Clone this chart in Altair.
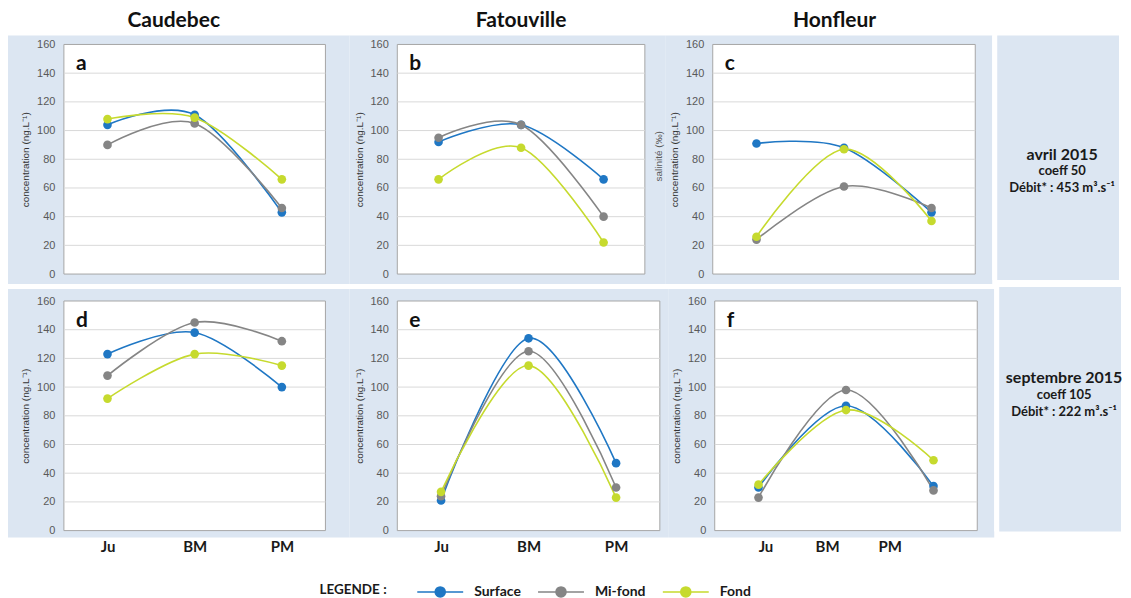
import altair as alt
import pandas as pd

# ---------------- data ----------------
times = ["Ju", "BM", "PM"]
series = ["Surface", "Mi-fond", "Fond"]
series_colors = ["#1F77C4", "#858585", "#C6DA2E"]
y_ticks = [0, 20, 40, 60, 80, 100, 120, 140, 160]
grid_levels = [20, 40, 60, 80, 100, 120, 140]
sites = ["Caudebec", "Fatouville", "Honfleur"]
letters = ["a", "b", "c", "d", "e", "f"]

a_surface = [104, 111, 43]
a_mifond = [90, 105, 46]
a_fond = [108, 109, 66]
b_surface = [92, 104, 66]
b_mifond = [95, 104, 40]
b_fond = [66, 88, 22]
c_surface = [91, 88, 43]
c_mifond = [24, 61, 46]
c_fond = [26, 87, 37]
d_surface = [123, 138, 100]
d_mifond = [108, 145, 132]
d_fond = [92, 123, 115]
e_surface = [21, 134, 47]
e_mifond = [24, 125, 30]
e_fond = [27, 115, 23]
f_surface = [30, 87, 31]
f_mifond = [23, 98, 28]
f_fond = [32, 84, 49]

period_1 = ["avril 2015", "coeff 50", "Débit* : 453 m³.s⁻¹"]
period_2 = ["septembre 2015", "coeff 105", "Débit* : 222 m³.s⁻¹"]

BLUE = "#DCE6F2"
Y_TITLE = "concentration (ng.L⁻¹)"
ONE = pd.DataFrame({"k": [0]})


def long_df(surface, mifond, fond):
    rows = []
    for name, vals in zip(series, [surface, mifond, fond]):
        for i, (t, v) in enumerate(zip(times, vals)):
            rows.append({"series": name, "time": t, "idx": i, "value": v})
    return pd.DataFrame(rows)


legend_symbol = "M-1,0L1,0M0.22,0A0.22,0.22,0,1,1,-0.22,0A0.22,0.22,0,1,1,0.22,0Z"


def make_legend():
    return alt.Legend(
        title="LEGENDE :",
        orient="none",
        legendX=256,
        legendY=524,
        direction="horizontal",
        titleOrient="left",
        titleBaseline="top",
        titleFont="Lato",
        titleFontSize=13.5,
        titleFontWeight="bold",
        titleColor="#1a1a1a",
        titlePadding=29,
        labelFont="Lato",
        labelFontSize=14,
        labelFontWeight="bold",
        labelColor="#1a1a1a",
        labelOffset=10,
        columnPadding=14,
        symbolType=legend_symbol,
        symbolSize=2116,
        symbolStrokeWidth=1.5,
        symbolOpacity=1,
    )


series_scale = alt.Scale(domain=series, range=series_colors)
stroke_enc = alt.Stroke("series:N", scale=series_scale, sort=series, legend=make_legend())
fill_enc = alt.Fill("series:N", scale=series_scale, sort=series, legend=make_legend())


def value_rect(x0, x1, y0, y1, fill):
    return alt.Chart(ONE).mark_rect(color=fill).encode(
        x=alt.value(x0), x2=alt.value(x1), y=alt.value(y0), y2=alt.value(y1)
    )


def label_text(txt, x, y, **kw):
    return alt.Chart(ONE).mark_text(text=txt, **kw).encode(x=alt.value(x), y=alt.value(y))


def panel(surface, mifond, fond, letter, W, H, rect, show_x=False, label_offset=None,
          top_spacer=False, extras=()):
    df = long_df(surface, mifond, fond)
    x_axis = None
    if show_x:
        kw = dict(title=None, labelFont="Lato", labelFontSize=15, labelFontWeight="bold",
                  labelColor="#1a1a1a", labelPadding=9, domain=False, ticks=False,
                  labelAngle=0, zindex=1, grid=False)
        if label_offset is not None:
            kw["labelOffset"] = label_offset
        x_axis = alt.Axis(**kw)
    xenc = alt.X("time:N", scale=alt.Scale(type="point", domain=times, padding=0.5),
                 sort=times, axis=x_axis)
    yenc = alt.Y(
        "value:Q",
        scale=alt.Scale(domain=[0, 160], nice=False),
        axis=alt.Axis(values=y_ticks, title=Y_TITLE, grid=False, domain=False, ticks=False,
                      labelPadding=9, labelFont="Liberation Sans", labelFontSize=11,
                      labelColor="#595959", titleFont="Liberation Sans", titleFontSize=10,
                      titleFontWeight="normal", titleColor="#333333", titlePadding=6,
                      zindex=1),
    )
    layers = []
    if top_spacer:
        layers.append(value_rect(rect[0], rect[1], -36, rect[2], "white"))
    layers.append(value_rect(rect[0], rect[1], rect[2], rect[3], BLUE))
    layers.append(
        alt.Chart(ONE).mark_rect(fill="white", stroke="#A6A6A6", strokeWidth=1).encode(
            x=alt.value(0), x2=alt.value(W), y=alt.value(0), y2=alt.value(H))
    )
    layers.append(
        alt.Chart(pd.DataFrame({"value": grid_levels})).mark_rule(color="#D9D9D9", strokeWidth=1)
        .encode(y=yenc, x=alt.value(0), x2=alt.value(W))
    )
    layers.append(
        alt.Chart(df).mark_line(interpolate="cardinal", strokeWidth=1.6)
        .encode(x=xenc, y=yenc, stroke=stroke_enc, order="idx:Q")
    )
    layers.append(
        alt.Chart(df).mark_circle(size=75, opacity=1).encode(x=xenc, y=yenc, fill=fill_enc)
    )
    layers.append(label_text(letter, 12, 20, font="Lato", fontSize=21, fontWeight="bold",
                             align="left", color="#111111"))
    for ex in extras:
        layers.append(ex)
    return alt.layer(*layers).properties(width=W, height=H)


def site_title(txt, x):
    return label_text(txt, x, -23, font="Lato", fontSize=21, fontWeight="bold",
                      align="center", baseline="middle", color="#111111")


def salinity(x, y):
    return label_text("salinité (‰)", x, y, font="Liberation Sans", fontSize=10,
                      angle=270, align="center", baseline="middle", color="#595959")


def text_panel(lines, y0, y1, ys):
    layers = [value_rect(0, 5, y0, y1, "white"), value_rect(5, 127, y0, y1, BLUE)]
    sizes = [16, 13, 13]
    for txt, y, s in zip(lines, ys, sizes):
        layers.append(label_text(txt, 70, y, font="Lato", fontSize=s, fontWeight="bold",
                                 align="center", baseline="middle", color="#1a1a1a"))
    return alt.layer(*layers).properties(width=127, height=230)


f_label_offset = {
    "condition": [
        {"test": "datum.value === 'Ju'", "value": 7},
        {"test": "datum.value === 'BM'", "value": -19},
    ],
    "value": -44,
}

pa = panel(a_surface, a_mifond, a_fond, letters[0], 262, 230, (-56, 286, -9, 240),
           top_spacer=True, extras=[site_title(sites[0], 110)])
pb = panel(b_surface, b_mifond, b_fond, letters[1], 248, 230, (-48, 269, -9, 240),
           extras=[site_title(sites[1], 124), salinity(262, 112)])
pc = panel(c_surface, c_mifond, c_fond, letters[2], 263, 230, (-47, 280, -9, 240),
           extras=[site_title(sites[2], 122)])
t1 = text_panel(period_1, -9, 236, [111, 127, 144])

pd_ = panel(d_surface, d_mifond, d_fond, letters[3], 262, 230, (-56, 286, -12, 237), show_x=True)
pe = panel(e_surface, e_mifond, e_fond, letters[4], 263, 230, (-48, 272, -12, 237), show_x=True)
pf = panel(f_surface, f_mifond, f_fond, letters[5], 263, 230, (-46, 280, -12, 237), show_x=True,
           label_offset=f_label_offset)
t2 = text_panel(period_2, -14, 231, [77, 94, 111])

row1 = alt.hconcat(pa, pb, pc, t1, spacing=0)
row2 = alt.hconcat(pd_, pe, pf, t2, spacing=0)

chart = (
    alt.vconcat(row1, row2, spacing=3)
    .resolve_scale(stroke="shared", fill="shared")
    .properties(padding=0, background="white")
    .configure_view(stroke=None)
)

chart.save("out.html", embed_options={"renderer": "svg", "actions": False})
